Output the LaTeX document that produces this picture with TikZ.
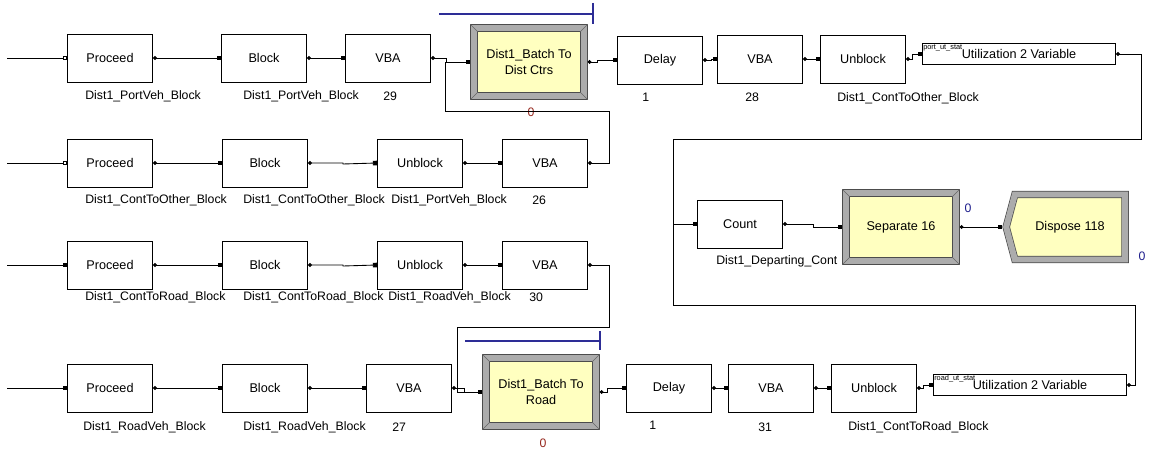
\documentclass[tikz,border=0pt]{standalone}
\usepackage{fontspec}
\setmainfont{Liberation Sans}
\usetikzlibrary{positioning,arrows.meta,shapes.symbols}
\definecolor{yelfill}{RGB}{255,255,192}
\definecolor{bevgray}{RGB}{172,172,172}
\definecolor{qblue}{RGB}{45,45,150}
\definecolor{cntred}{RGB}{150,40,30}
\definecolor{cntblue}{RGB}{30,30,140}
\newcommand{\boxfont}{\fontsize{7.2}{8.6}\selectfont}
\newcommand{\lblfont}{\fontsize{7}{8.4}\selectfont}

\begin{document}
\begin{tikzpicture}[x=0.02cm, y=-0.02cm,
  blk/.style={draw, line width=0.55pt, minimum width=1.7cm, minimum height=0.96cm, inner sep=0pt, font=\boxfont},
  bevel/.style={draw=black!70, line width=0.4pt, double=bevgray, double distance=3.4pt, fill=yelfill,
    minimum width=2.2cm, minimum height=1.36cm, align=center, inner sep=0pt, outer sep=2.1pt, font=\boxfont},
  utl/.style={draw, line width=0.55pt, minimum width=3.86cm, minimum height=0.42cm, inner sep=0pt, font=\boxfont},
  lbl/.style={font=\lblfont, inner sep=0pt, anchor=west},
  tinylbl/.style={font=\fontsize{4.2}{4.2}\selectfont, inner sep=0.5pt, anchor=north west},
  conn/.style={line width=0.5pt, arrows={Circle[length=2.2pt]-Square[length=2.4pt,width=2.6pt]}},
  oconn/.style={line width=0.5pt, arrows={-Square[open,length=2.4pt,width=2.6pt]}},
  fconn/.style={line width=0.5pt, arrows={-Square[length=2.4pt,width=2.6pt]}},
  queue/.style={qblue, line width=0.7pt}]

  \useasboundingbox (0,0) rectangle (1150,449);

  % Row 1
  \coordinate (in1) at (7,58);
  \node[blk] (pr1) at (110,58) {Proceed};
  \node[blk] (bk1) at (264,58) {Block};
  \node[blk] (vb1) at (388,58) {VBA};
  \node[bevel] (bt1) at (529,62) {Dist1\_Batch To\\Dist Ctrs};
  \node[blk] (dl1) at (660,60) {Delay};
  \node[blk] (vb2) at (760,59) {VBA};
  \node[blk] (ub1) at (863,59) {Unblock};
  \node[utl] (ut1) at (1019,54) {Utilization 2 Variable};
  \node[tinylbl] (ts1) at (ut1.north west) {port\_ut\_stat};

  \draw[oconn] (in1) -- (pr1.west);
  \draw[conn] (pr1.east) -- (bk1.west);
  \draw[conn] (bk1.east) -- (vb1.west);
  \draw[conn] (vb1.east) -- ++(15,0) |- (bt1.west);
  \draw[conn] (bt1.east) -- ++(10,0) |- (dl1.west);
  \draw[conn] (dl1.east) -- ++(8,0) |- (vb2.west);
  \draw[conn] (vb2.east) -- (ub1.west);
  \draw[conn] (ub1.east) -- ++(6,0) |- (ut1.west);

  \node[lbl] (lp1) at (85,96) {Dist1\_PortVeh\_Block};
  \node[lbl] (lb1) at (243,96) {Dist1\_PortVeh\_Block};
  \node[lbl] (lv1) at (383,96) {29};
  \node[lbl] (ld1) at (642,97) {1};
  \node[lbl] (lv2) at (745,97) {28};
  \node[lbl] (lu1) at (837,98) {Dist1\_ContToOther\_Block};
  \node[font=\lblfont, text=cntred, inner sep=0pt] (nb1) at (531,112) {0};
  \draw[queue] (439,14) -- (593,14) (593,3) -- (593,24);

  % Row 2
  \coordinate (in2) at (7,163);
  \node[blk] (pr2) at (110,163) {Proceed};
  \node[blk] (bk2) at (265,163) {Block};
  \node[blk] (ub2) at (420,163) {Unblock};
  \node[blk] (vb3) at (545,163) {VBA};
  \coordinate (rt2) at (609,111);
  \coordinate (jt1) at (445,111);

  \draw[oconn] (in2) -- (pr2.west);
  \draw[conn] (pr2.east) -- (bk2.west);
  \draw[conn] (bk2.east) -- ++(35,0) -- ++(0,1) -- (ub2.west);
  \draw[conn] (ub2.east) -- (vb3.west);
  \draw[conn] (vb3.east) -| (rt2) -- (jt1) |- (bt1.west);

  \node[lbl] (lp2) at (85,200) {Dist1\_ContToOther\_Block};
  \node[lbl] (lb2) at (243,200) {Dist1\_ContToOther\_Block};
  \node[lbl] (lu2) at (391,200) {Dist1\_PortVeh\_Block};
  \node[lbl] (lv3) at (532,200) {26};

  % Row 3
  \coordinate (in3) at (7,265);
  \node[blk] (pr3) at (110,265) {Proceed};
  \node[blk] (bk3) at (265,265) {Block};
  \node[blk] (ub3) at (420,265) {Unblock};
  \node[blk] (vb4) at (545,265) {VBA};
  \coordinate (rt3) at (609,327);
  \coordinate (jt2) at (457,327);

  \draw[fconn] (in3) -- (pr3.west);
  \draw[conn] (pr3.east) -- (bk3.west);
  \draw[conn] (bk3.east) -- ++(35,0) -- ++(0,1) -- (ub3.west);
  \draw[conn] (ub3.east) -- (vb4.west);

  \node[lbl] (lp3) at (85,297) {Dist1\_ContToRoad\_Block};
  \node[lbl] (lb3) at (243,297) {Dist1\_ContToRoad\_Block};
  \node[lbl] (lu3) at (388,297) {Dist1\_RoadVeh\_Block};
  \node[lbl] (lv4) at (529,297) {30};

  % Row 4
  \coordinate (in4) at (7,388);
  \node[blk] (pr4) at (110,388) {Proceed};
  \node[blk] (bk4) at (265,388) {Block};
  \node[blk] (vb5) at (409,388) {VBA};
  \node[bevel] (bt2) at (541,392) {Dist1\_Batch To\\Road};
  \node[blk] (dl2) at (669,388) {Delay};
  \node[blk] (vb6) at (771,388) {VBA};
  \node[blk] (ub4) at (874,388) {Unblock};
  \node[utl] (ut2) at (1030,385) {Utilization 2 Variable};
  \node[tinylbl] (ts2) at (ut2.north west) {road\_ut\_stat};

  \draw[fconn] (in4) -- (pr4.west);
  \draw[conn] (pr4.east) -- (bk4.west);
  \draw[conn] (bk4.east) -- (vb5.west);
  \draw[conn] (vb5.east) -- ++(12,0) |- (bt2.west);
  \draw[conn] (vb4.east) -| (rt3) -- (jt2) |- (bt2.west);
  \draw[conn] (bt2.east) -- ++(8,0) |- (dl2.west);
  \draw[conn] (dl2.east) -- (vb6.west);
  \draw[conn] (vb6.east) -- (ub4.west);
  \draw[conn] (ub4.east) -- ++(6,0) |- (ut2.west);

  \node[lbl] (lp4) at (83,427) {Dist1\_RoadVeh\_Block};
  \node[lbl] (lb4) at (243,427) {Dist1\_RoadVeh\_Block};
  \node[lbl] (lv5) at (392,427) {27};
  \node[lbl] (ld2) at (649,425) {1};
  \node[lbl] (lv6) at (758,427) {31};
  \node[lbl] (lu4) at (848,427) {Dist1\_ContToRoad\_Block};
  \node[font=\lblfont, text=cntred, inner sep=0pt] (nb2) at (543,443) {0};
  \draw[queue] (465,341) -- (600,341) (600,331) -- (600,350);

  % Departure
  \node[blk] (ct) at (740,224) {Count};
  \node[bevel] (sp) at (901,227) {Separate 16};
  \node[bevel, signal, signal to=west, signal pointer angle=150, minimum width=2.38cm, minimum height=1.3cm] (dp) at (1070,227) {Dispose 118};
  \coordinate (r1) at (1141,139);
  \coordinate (lt) at (673,139);
  \coordinate (r2) at (1135,305);
  \coordinate (lb) at (673,305);

  \draw[conn] (ut1.east) -| (r1) -- (lt) |- (ct.west);
  \draw[conn] (ut2.east) -| (r2) -- (lb) |- (ct.west);
  \draw[conn] (ct.east) -- ++(30,0) |- (sp.west);
  \draw[conn] (sp.east) -- (dp.west);

  \node[lbl] (lc) at (716,261) {Dist1\_Departing\_Cont};
  \node[font=\lblfont, text=cntblue, inner sep=0pt] (ns) at (968,208) {0};
  \node[font=\lblfont, text=cntblue, inner sep=0pt] (nd) at (1142,256) {0};

  % bevel corners
  \foreach \n in {bt1,bt2,sp}{
    \draw[black!60, line width=0.3pt] (\n.north west) -- ++(4.4pt,-4.4pt)
      (\n.north east) -- ++(-4.4pt,-4.4pt)
      (\n.south west) -- ++(4.4pt,4.4pt)
      (\n.south east) -- ++(-4.4pt,4.4pt);
  }

\end{tikzpicture}
\end{document}
